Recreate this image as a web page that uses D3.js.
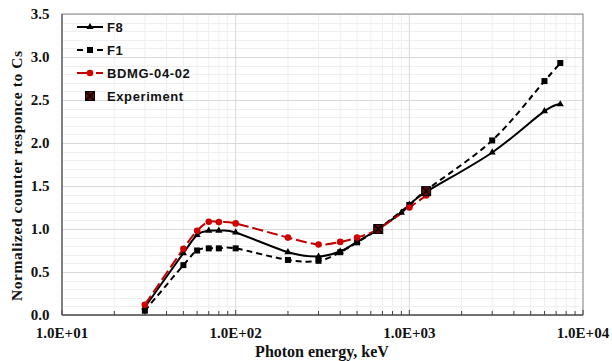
<!DOCTYPE html>
<html>
<head>
<meta charset="utf-8">
<script src="https://d3js.org/d3.v7.min.js"></script>
<style>
  body { margin: 0; background: #fff; }
  text { font-family: "Liberation Serif", "Times New Roman", serif; font-weight: bold; }
  .leg { font-family: "Liberation Sans", Arial, sans-serif; font-weight: bold; font-size: 13px; letter-spacing: 0.6px; }
</style>
</head>
<body>
<script>
// photon energies (keV) and normalized responses
var energyF = [30, 50, 60, 70, 80, 100, 200, 300, 400, 500, 662, 900, 1000, 1250, 3000, 6000, 7400];
var f8 = [0.09, 0.72, 0.93, 0.98, 0.98, 0.96, 0.73, 0.68, 0.74, 0.85, 1.0, 1.19, 1.28, 1.43, 1.89, 2.37, 2.45];

var energyF1 = [30, 50, 60, 70, 80, 100, 200, 300, 400, 500, 662, 1000, 1250, 3000, 6000, 7400];
var f1 = [0.05, 0.58, 0.75, 0.775, 0.775, 0.775, 0.64, 0.63, 0.73, 0.845, 1.0, 1.28, 1.45, 2.03, 2.72, 2.93];

var energyB = [30, 50, 60, 70, 80, 100, 200, 300, 400, 500, 662, 1000, 1250];
var bdmg = [0.12, 0.77, 0.98, 1.085, 1.08, 1.065, 0.90, 0.82, 0.85, 0.90, 1.0, 1.25, 1.39];

var energyExp = [662, 1250];
var experiment = [1.0, 1.44];

var xTicks = [10, 100, 1000, 10000];
var yTicks = [0, 0.5, 1.0, 1.5, 2.0, 2.5, 3.0, 3.5];

var W = 612, H = 361;
var pL = 62, pR = 583, pT = 14, pB = 315;

var svg = d3.select("body").append("svg").attr("width", W).attr("height", H);

var x = d3.scaleLog().domain([10, 10000]).range([pL, pR]);
var y = d3.scaleLinear().domain([0, 3.5]).range([pB, pT]);

// minor grid
var minorX = [];
[10, 100, 1000].forEach(function (d) { for (var k = 2; k <= 9; k++) minorX.push(d * k); });
var minorY = d3.range(0, 36).map(function (i) { return i / 10; }).filter(function (v) { return Math.round(v * 10) % 5 != 0; });

svg.append("g").selectAll("line").data(minorX).enter().append("line")
  .attr("x1", function (d) { return x(d); }).attr("x2", function (d) { return x(d); })
  .attr("y1", pT).attr("y2", pB)
  .attr("stroke", "#efefef").attr("stroke-width", 1);
svg.append("g").selectAll("line").data(minorY).enter().append("line")
  .attr("x1", pL).attr("x2", pR)
  .attr("y1", function (d) { return Math.round(y(d)) + 0.5; }).attr("y2", function (d) { return Math.round(y(d)) + 0.5; })
  .attr("stroke", "#efefef").attr("stroke-width", 1);
// major grid
svg.append("g").selectAll("line").data(xTicks).enter().append("line")
  .attr("x1", function (d) { return x(d); }).attr("x2", function (d) { return x(d); })
  .attr("y1", pT).attr("y2", pB)
  .attr("stroke", "#d9d9d9").attr("stroke-width", 1);
svg.append("g").selectAll("line").data(yTicks).enter().append("line")
  .attr("x1", pL).attr("x2", pR)
  .attr("y1", function (d) { return Math.round(y(d)) + 0.5; }).attr("y2", function (d) { return Math.round(y(d)) + 0.5; })
  .attr("stroke", "#d9d9d9").attr("stroke-width", 1);

// frame
svg.append("rect").attr("x", pL).attr("y", pT).attr("width", pR - pL).attr("height", pB - pT)
  .attr("fill", "none").attr("stroke", "#8c8c8c").attr("stroke-width", 1);

// x axis with inside ticks
var xAxis = svg.append("g").attr("transform", "translate(0," + pB + ")");
xAxis.append("line").attr("x1", pL).attr("x2", pR).attr("stroke", "#595959").attr("stroke-width", 1.5);
xAxis.selectAll(".mt").data(minorX).enter().append("line")
  .attr("x1", function (d) { return x(d); }).attr("x2", function (d) { return x(d); })
  .attr("y1", 0).attr("y2", -4).attr("stroke", "#404040").attr("stroke-width", 1);
xAxis.selectAll(".Mt").data(xTicks).enter().append("line")
  .attr("x1", function (d) { return x(d); }).attr("x2", function (d) { return x(d); })
  .attr("y1", 0).attr("y2", -5).attr("stroke", "#404040").attr("stroke-width", 1);
xAxis.selectAll("text").data(xTicks).enter().append("text")
  .attr("x", function (d) { return x(d); }).attr("y", 23)
  .attr("text-anchor", "middle").attr("font-size", 15).attr("fill", "#111")
  .text(function (d) { return "1.0E+0" + Math.round(Math.log10(d)); });

// y axis labels
svg.append("line").attr("x1", pL).attr("x2", pL).attr("y1", pT).attr("y2", pB)
  .attr("stroke", "#595959").attr("stroke-width", 1.2);
svg.append("g").selectAll("text").data(yTicks).enter().append("text")
  .attr("x", 49.5).attr("y", function (d) { return y(d) + 5; })
  .attr("text-anchor", "end").attr("font-size", 15).attr("fill", "#111")
  .text(function (d) { return d.toFixed(1); });

// axis titles
svg.append("text").attr("transform", "translate(22,176) rotate(-90)")
  .attr("text-anchor", "middle").attr("font-size", 15.5).attr("fill", "#111")
  .attr("textLength", 250).attr("lengthAdjust", "spacing")
  .text("Normalized  counter responce to Cs");
svg.append("text").attr("x", 322).attr("y", 357)
  .attr("text-anchor", "middle").attr("font-size", 16).attr("fill", "#111")
  .text("Photon energy, keV");

// series
var curve = d3.curveCardinal.tension(0);
function pts(ex, vals) { return ex.map(function (e, i) { return [e, vals[i]]; }); }
var line = d3.line().x(function (d) { return x(d[0]); }).y(function (d) { return y(d[1]); }).curve(curve);

svg.append("path").datum(pts(energyF1, f1)).attr("d", line)
  .attr("fill", "none").attr("stroke", "#000").attr("stroke-width", 2).attr("stroke-dasharray", "6,4");
svg.append("path").datum(pts(energyF, f8)).attr("d", line)
  .attr("fill", "none").attr("stroke", "#000").attr("stroke-width", 2);
svg.append("path").datum(pts(energyB, bdmg)).attr("d", line)
  .attr("fill", "none").attr("stroke", "#c00000").attr("stroke-width", 2).attr("stroke-dasharray", "11,4");

var tri = d3.symbol().type(d3.symbolTriangle).size(22);
svg.append("g").selectAll("path").data(pts(energyF, f8)).enter().append("path")
  .attr("d", tri).attr("fill", "#000")
  .attr("transform", function (d) { return "translate(" + x(d[0]) + "," + y(d[1]) + ")"; });
svg.append("g").selectAll("rect").data(pts(energyF1, f1)).enter().append("rect")
  .attr("x", function (d) { return x(d[0]) - 3; }).attr("y", function (d) { return y(d[1]) - 3; })
  .attr("width", 6).attr("height", 6).attr("fill", "#000");
svg.append("g").selectAll("circle").data(pts(energyB, bdmg)).enter().append("circle")
  .attr("cx", function (d) { return x(d[0]); }).attr("cy", function (d) { return y(d[1]); })
  .attr("r", 3.3).attr("fill", "#d00000");

function expMarker(g, cx, cy) {
  g.append("rect").attr("x", cx - 4.5).attr("y", cy - 4.5).attr("width", 9).attr("height", 9)
    .attr("fill", "#5c0a0a").attr("stroke", "#000").attr("stroke-width", 1);
  g.append("path").attr("d", "M" + (cx - 4) + "," + (cy - 4) + "L" + (cx + 4) + "," + (cy + 4) +
    "M" + (cx + 4) + "," + (cy - 4) + "L" + (cx - 4) + "," + (cy + 4))
    .attr("stroke", "#000").attr("stroke-width", 1.2);
}
var expG = svg.append("g");
pts(energyExp, experiment).forEach(function (d) { expMarker(expG, x(d[0]), y(d[1])); });

// legend
var lg = svg.append("g");
var legY = [27, 50, 73, 96];
lg.append("line").attr("x1", 77).attr("x2", 103).attr("y1", legY[0]).attr("y2", legY[0]).attr("stroke", "#000").attr("stroke-width", 2);
lg.append("path").attr("d", tri).attr("transform", "translate(90," + legY[0] + ")");
lg.append("line").attr("x1", 77).attr("x2", 103).attr("y1", legY[1]).attr("y2", legY[1]).attr("stroke", "#000").attr("stroke-width", 2).attr("stroke-dasharray", "6,4");
lg.append("rect").attr("x", 87).attr("y", legY[1] - 3).attr("width", 6).attr("height", 6);
lg.append("line").attr("x1", 77).attr("x2", 103).attr("y1", legY[2]).attr("y2", legY[2]).attr("stroke", "#c00000").attr("stroke-width", 2).attr("stroke-dasharray", "14,5");
lg.append("circle").attr("cx", 90).attr("cy", legY[2]).attr("r", 3.3).attr("fill", "#d00000");
expMarker(lg, 90, legY[3]);
var names = ["F8", "F1", "BDMG-04-02", "Experiment"];
lg.selectAll("text").data(names).enter().append("text").attr("class", "leg")
  .attr("x", 107).attr("y", function (d, i) { return legY[i] + 4.5; })
  .attr("fill", "#111")
  .text(function (d) { return d; });
</script>
</body>
</html>
